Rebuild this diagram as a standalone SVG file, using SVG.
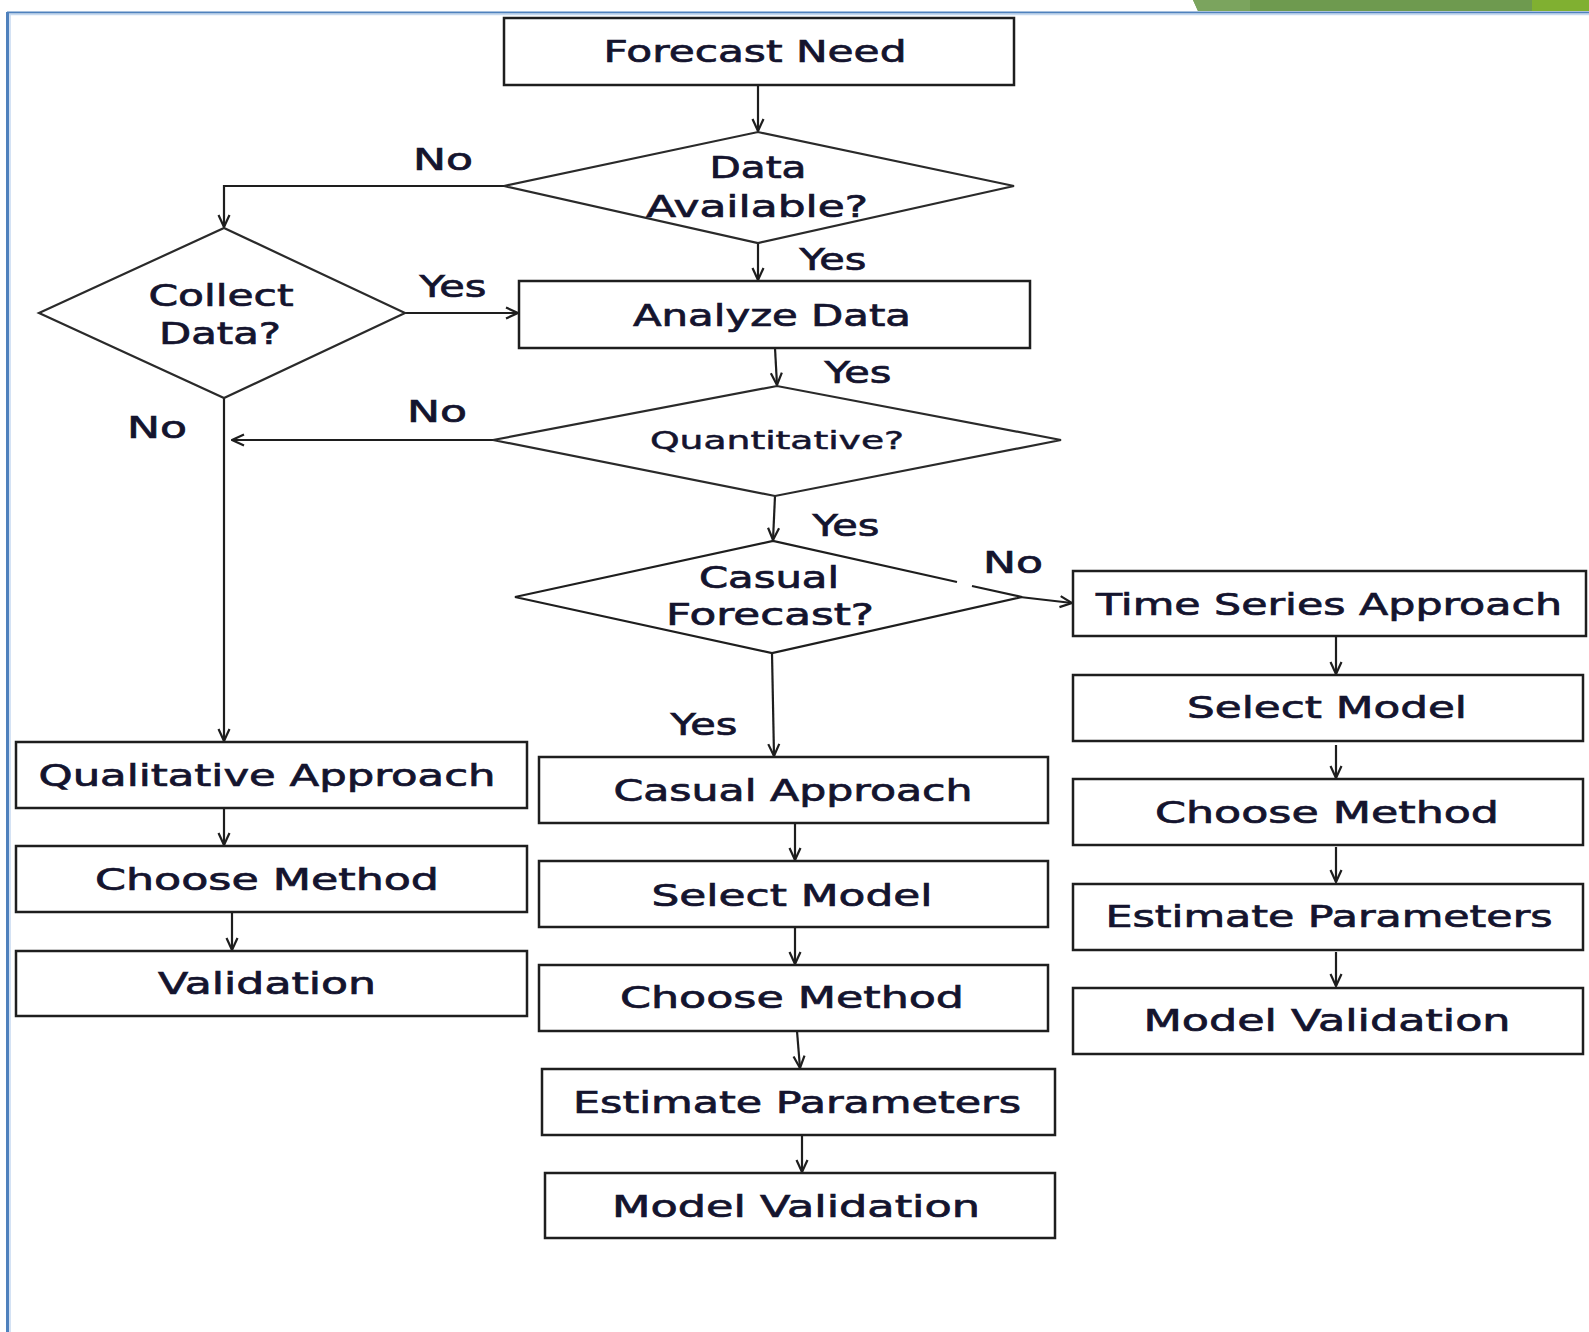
<svg xmlns="http://www.w3.org/2000/svg" width="1589" height="1332" viewBox="0 0 1589 1332">
<defs>
<style>
.box{fill:#fff;stroke:#1e1e1e;stroke-width:2.5}
.dia{fill:#fff;stroke:#2a2a2a;stroke-width:2.2}
.edge{fill:none;stroke:#1e1e1e;stroke-width:2.2}
.t{font-family:"DejaVu Sans",Verdana,sans-serif;font-size:30px;fill:#14142e;stroke:#14142e;stroke-width:0.7;text-anchor:middle}
.s{font-size:24px;stroke-width:0.5}
</style>
<marker id="ah" viewBox="0 0 14 14" refX="13" refY="7" markerWidth="14" markerHeight="14" markerUnits="userSpaceOnUse" orient="auto">
<path d="M1,1.5 L13,7 L1,12.5" fill="none" stroke="#1e1e1e" stroke-width="2.2"/>
</marker>
</defs>
<rect width="1589" height="1332" fill="#fff"/>
<g id="frame">
<polygon points="1193,0 1589,0 1589,11 1198,11" fill="#6e9a4f"/>
<polygon points="1193,0 1250,0 1250,11 1198,11" fill="#7ba45e"/>
<rect x="1532" y="0" width="57" height="11" fill="#80b031"/>
<line x1="7" y1="12.5" x2="1589" y2="12.5" stroke="#4f81bd" stroke-width="2"/>
<line x1="8" y1="14.5" x2="1589" y2="14.5" stroke="#c6d9f0" stroke-width="1.5"/>
<line x1="7.5" y1="12" x2="7.5" y2="1332" stroke="#4f81bd" stroke-width="3"/>
<line x1="10" y1="14" x2="10" y2="1332" stroke="#c6d9f0" stroke-width="1.5"/>
</g>
<g id="connectors">
<line class="edge" x1="758" y1="85" x2="758" y2="131" marker-end="url(#ah)"/>
<polyline class="edge" points="504,186 224,186 224,227" marker-end="url(#ah)"/>
<line class="edge" x1="405" y1="313" x2="518" y2="313" marker-end="url(#ah)"/>
<line class="edge" x1="758" y1="243" x2="758" y2="280" marker-end="url(#ah)"/>
<line class="edge" x1="775" y1="348" x2="777" y2="385" marker-end="url(#ah)"/>
<line class="edge" x1="493" y1="440" x2="232" y2="440" marker-end="url(#ah)"/>
<line class="edge" x1="224" y1="398" x2="224" y2="741" marker-end="url(#ah)"/>
<line class="edge" x1="775" y1="496" x2="773" y2="540" marker-end="url(#ah)"/>
<line class="edge" x1="1020" y1="597" x2="1072" y2="603" marker-end="url(#ah)"/>
<line class="edge" x1="772" y1="653" x2="774" y2="756" marker-end="url(#ah)"/>
<line class="edge" x1="1336" y1="636" x2="1336" y2="674" marker-end="url(#ah)"/>
<line class="edge" x1="1336" y1="745" x2="1336" y2="778" marker-end="url(#ah)"/>
<line class="edge" x1="1336" y1="847" x2="1336" y2="882" marker-end="url(#ah)"/>
<line class="edge" x1="1336" y1="952" x2="1336" y2="986" marker-end="url(#ah)"/>
<line class="edge" x1="795" y1="823" x2="795" y2="860" marker-end="url(#ah)"/>
<line class="edge" x1="795" y1="927" x2="795" y2="964" marker-end="url(#ah)"/>
<line class="edge" x1="797" y1="1031" x2="800" y2="1068" marker-end="url(#ah)"/>
<line class="edge" x1="802" y1="1135" x2="802" y2="1172" marker-end="url(#ah)"/>
<line class="edge" x1="224" y1="808" x2="224" y2="845" marker-end="url(#ah)"/>
<line class="edge" x1="232" y1="912" x2="232" y2="950" marker-end="url(#ah)"/>
</g>
<g id="forecast-need"><rect class="box" x="504" y="18" width="510" height="67"/><text class="t" x="755" y="62" textLength="303" lengthAdjust="spacingAndGlyphs">Forecast Need</text></g>
<g id="data-available"><polygon class="dia" points="504,186 758,132 1014,186 758,243"/><text class="t" x="758" y="178" textLength="97" lengthAdjust="spacingAndGlyphs">Data</text><text class="t" x="757" y="217" textLength="222" lengthAdjust="spacingAndGlyphs">Available?</text></g>
<g id="collect-data"><polygon class="dia" points="39,313 224,228 405,313 224,398"/><text class="t" x="221" y="306" textLength="145" lengthAdjust="spacingAndGlyphs">Collect</text><text class="t" x="220" y="344" textLength="122" lengthAdjust="spacingAndGlyphs">Data?</text></g>
<g id="analyze-data"><rect class="box" x="519" y="281" width="511" height="67"/><text class="t" x="772" y="326" textLength="278" lengthAdjust="spacingAndGlyphs">Analyze Data</text></g>
<g id="quantitative"><polygon class="dia" points="493,440 777,386 1061,440 775,496"/><text class="t s" x="777" y="449" textLength="254" lengthAdjust="spacingAndGlyphs">Quantitative?</text></g>
<g id="casual-forecast"><polygon points="515,597 773,541 1022,597 772,653" fill="#fff"/><path class="edge" d="M957,582 L773,541 L515,597 L772,653 L1022,597 L972,586"/><text class="t" x="769" y="588" textLength="140" lengthAdjust="spacingAndGlyphs">Casual</text><text class="t" x="770" y="625" textLength="208" lengthAdjust="spacingAndGlyphs">Forecast?</text></g>
<g id="time-series-approach"><rect class="box" x="1073" y="571" width="513" height="65"/><text class="t" x="1329" y="615" textLength="466" lengthAdjust="spacingAndGlyphs">Time Series Approach</text></g>
<g id="ts-select-model"><rect class="box" x="1073" y="675" width="510" height="66"/><text class="t" x="1327" y="718" textLength="280" lengthAdjust="spacingAndGlyphs">Select Model</text></g>
<g id="ts-choose-method"><rect class="box" x="1073" y="779" width="510" height="66"/><text class="t" x="1327" y="823" textLength="344" lengthAdjust="spacingAndGlyphs">Choose Method</text></g>
<g id="ts-estimate-parameters"><rect class="box" x="1073" y="884" width="510" height="66"/><text class="t" x="1329" y="927" textLength="447" lengthAdjust="spacingAndGlyphs">Estimate Parameters</text></g>
<g id="ts-model-validation"><rect class="box" x="1073" y="988" width="510" height="66"/><text class="t" x="1327" y="1031" textLength="367" lengthAdjust="spacingAndGlyphs">Model Validation</text></g>
<g id="casual-approach"><rect class="box" x="539" y="757" width="509" height="66"/><text class="t" x="793" y="801" textLength="359" lengthAdjust="spacingAndGlyphs">Casual Approach</text></g>
<g id="ca-select-model"><rect class="box" x="539" y="861" width="509" height="66"/><text class="t" x="792" y="906" textLength="281" lengthAdjust="spacingAndGlyphs">Select Model</text></g>
<g id="ca-choose-method"><rect class="box" x="539" y="965" width="509" height="66"/><text class="t" x="792" y="1008" textLength="344" lengthAdjust="spacingAndGlyphs">Choose Method</text></g>
<g id="ca-estimate-parameters"><rect class="box" x="542" y="1069" width="513" height="66"/><text class="t" x="797" y="1113" textLength="448" lengthAdjust="spacingAndGlyphs">Estimate Parameters</text></g>
<g id="ca-model-validation"><rect class="box" x="545" y="1173" width="510" height="65"/><text class="t" x="796" y="1217" textLength="368" lengthAdjust="spacingAndGlyphs">Model Validation</text></g>
<g id="qualitative-approach"><rect class="box" x="16" y="742" width="511" height="66"/><text class="t" x="267" y="786" textLength="457" lengthAdjust="spacingAndGlyphs">Qualitative Approach</text></g>
<g id="ql-choose-method"><rect class="box" x="16" y="846" width="511" height="66"/><text class="t" x="267" y="890" textLength="344" lengthAdjust="spacingAndGlyphs">Choose Method</text></g>
<g id="ql-validation"><rect class="box" x="16" y="951" width="511" height="65"/><text class="t" x="267" y="994" textLength="218" lengthAdjust="spacingAndGlyphs">Validation</text></g>
<g id="labels">
<text class="t" x="443" y="170" textLength="60" lengthAdjust="spacingAndGlyphs">No</text>
<text class="t" x="453" y="297" textLength="67" lengthAdjust="spacingAndGlyphs">Yes</text>
<text class="t" x="833" y="270" textLength="67" lengthAdjust="spacingAndGlyphs">Yes</text>
<text class="t" x="858" y="383" textLength="67" lengthAdjust="spacingAndGlyphs">Yes</text>
<text class="t" x="437" y="422" textLength="60" lengthAdjust="spacingAndGlyphs">No</text>
<text class="t" x="157" y="438" textLength="60" lengthAdjust="spacingAndGlyphs">No</text>
<text class="t" x="846" y="536" textLength="67" lengthAdjust="spacingAndGlyphs">Yes</text>
<text class="t" x="1013" y="573" textLength="60" lengthAdjust="spacingAndGlyphs">No</text>
<text class="t" x="704" y="735" textLength="67" lengthAdjust="spacingAndGlyphs">Yes</text>
</g>
</svg>
